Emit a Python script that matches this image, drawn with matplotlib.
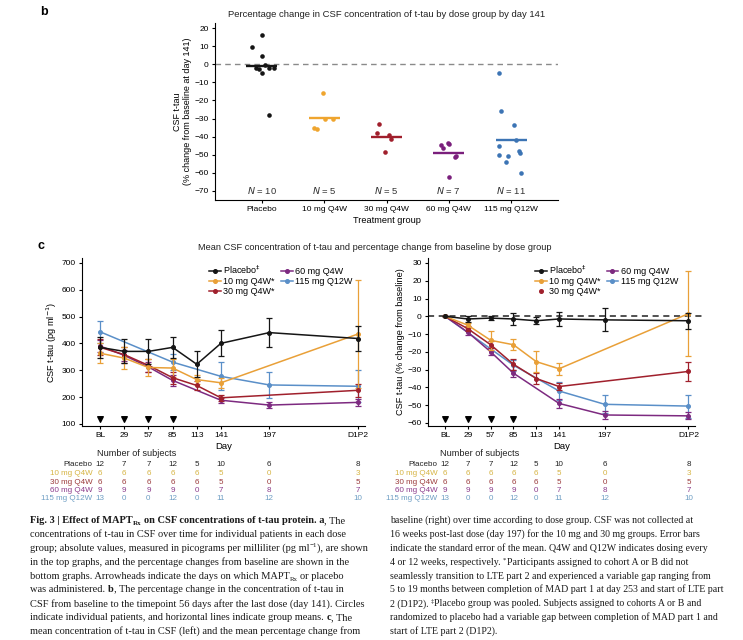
import numpy as np
import matplotlib
matplotlib.use("Agg")
import matplotlib.pyplot as plt
from matplotlib.lines import Line2D
from matplotlib.transforms import blended_transform_factory

plt.rcParams['font.family'] = ['Liberation Sans', 'DejaVu Sans']
plt.rcParams['axes.linewidth'] = 0.8
plt.rcParams['xtick.major.width'] = 0.8
plt.rcParams['ytick.major.width'] = 0.8
plt.rcParams['xtick.major.size'] = 2.5
plt.rcParams['ytick.major.size'] = 2.5

# ---------------- data: panel b (% change at day 141) ----------------
groups_b = ['Placebo', '10 mg Q4W', '30 mg Q4W', '60 mg Q4W', '115 mg Q12W']
pct_placebo = [9.5, 16, 4.5, -0.5, -2, -5, -2, -2, -2.5, -28]
pct_10mg = [-16, -35.5, -36, -30.5, -30]
pct_30mg = [-33, -38, -39, -41.5, -48.5]
pct_60mg = [-44.5, -46, -43.5, -44, -51.5, -50.5, -62.5]
pct_115mg = [-5, -26, -33.5, -42, -45, -50, -50.5, -54, -48, -49, -60]
# horizontal spread of the dots around each group
spread_placebo = [-0.16, 0.01, 0.01, 0.05, -0.09, 0.0, 0.11, 0.19, -0.05, 0.12]
spread_10mg = [-0.02, -0.16, -0.12, 0.14, 0.02]
spread_30mg = [-0.12, -0.15, 0.04, 0.07, -0.03]
spread_60mg = [-0.12, -0.10, -0.01, 0.01, 0.10, 0.11, 0.0]
spread_115mg = [-0.20, -0.17, 0.04, 0.08, -0.20, -0.20, -0.05, -0.09, 0.13, 0.14, 0.16]

# ---------------- data: panel c (means over time) ----------------
day_labels = ['BL', '29', '57', '85', '113', '141', '197', 'D1P2']
day_pos = [1, 29, 57, 85, 113, 141, 197, 300]
dose_days = ['BL', '29', '57', '85']
series_names = ['Placebo$^{\\ddag}$', '10 mg Q4W*', '30 mg Q4W*', '60 mg Q4W', '115 mg Q12W']
table_names = ['Placebo', '10 mg Q4W', '30 mg Q4W', '60 mg Q4W', '115 mg Q12W']

n_subjects = [
    [12, 7, 7, 12, 5, 10, 6, 8],
    [6, 6, 6, 6, 6, 5, 0, 3],
    [6, 6, 6, 6, 6, 5, 0, 5],
    [9, 9, 9, 9, 0, 7, 8, 7],
    [13, 0, 0, 12, 0, 11, 12, 10],
]

abs_placebo = [385, 370, 370, 385, 322, 400, 440, 418]
abs_10mg = [363, 345, 310, 308, 265, 253, 0, 435]
abs_30mg = [385, 358, 318, 272, 243, 197, 0, 225]
abs_60mg = [390, 355, 312, 262, 0, 188, 170, 180]
abs_115mg = [443, 0, 0, 330, 0, 277, 245, 240]
sem_abs_placebo = [38, 45, 48, 38, 48, 48, 55, 47]
sem_abs_10mg = [38, 40, 30, 35, 18, 18, 0, 200]
sem_abs_30mg = [30, 30, 25, 22, 15, 10, 0, 25]
sem_abs_60mg = [22, 20, 18, 20, 0, 10, 12, 12]
sem_abs_115mg = [42, 0, 0, 30, 0, 52, 48, 60]

chg_placebo = [0, -1.5, -1, -1.5, -2.5, -1.5, -2, -2.5]
chg_10mg = [0, -5, -13.5, -16, -25.5, -29.5, 0, 1.5]
chg_30mg = [0, -7, -16, -27, -35, -39.5, 0, -31]
chg_60mg = [0, -9, -20, -32, 0, -49, -55.5, -56]
chg_115mg = [0, 0, 0, -27.5, 0, -42, -49.5, -50.5]
sem_chg_placebo = [0, 1.5, 1, 3.5, 2, 4, 6.5, 4.5]
sem_chg_10mg = [0, 1.5, 5.5, 3, 6, 3.5, 0, 24]
sem_chg_30mg = [0, 1.5, 2, 3, 3, 2, 0, 5.5]
sem_chg_60mg = [0, 1.5, 2, 2, 0, 2.5, 2, 2]
sem_chg_115mg = [0, 0, 0, 3, 0, 5, 5, 6.5]

col_b = ['#151515', '#EFA52F', '#A01F2C', '#7A1F7C', '#3C74B4']
col_c = ['#151515', '#E9A038', '#A0202C', '#7D2A80', '#5A8FC8']
col_tab = ['#222222', '#D6B443', '#9B3B3B', '#8B3C8C', '#6E9EC4']

W, H = 743, 640
fig = plt.figure(figsize=(W / 100, H / 100), dpi=100)


def axes_px(left, top, right, bottom):
    return fig.add_axes([left / W, 1 - bottom / H, (right - left) / W, (bottom - top) / H])


# ---------------- panel b ----------------
axb = axes_px(215, 22.6, 558, 200)
pcts = [pct_placebo, pct_10mg, pct_30mg, pct_60mg, pct_115mg]
spreads = [spread_placebo, spread_10mg, spread_30mg, spread_60mg, spread_115mg]
axb.axhline(0, color='#8a8a8a', ls=(0, (4, 3)), lw=1.0, zorder=1)
for i, (vals, sp) in enumerate(zip(pcts, spreads)):
    axb.plot(i + np.array(sp), vals, 'o', color=col_b[i], ms=3.3, mec='none', zorder=3)
    axb.hlines(np.mean(vals), i - 0.25, i + 0.25, color=col_b[i], lw=1.7, zorder=4)
    axb.text(i, -70, '$\\it{N}$ = %d' % len(vals), ha='center', va='center', fontsize=6.8, color='#333333')
axb.set_xlim(-0.75, 4.75)
axb.set_ylim(-75, 23)
axb.set_yticks(range(-70, 21, 10))
axb.set_xticks(range(5))
axb.set_xticklabels(groups_b)
axb.tick_params(labelsize=6, pad=2)
axb.spines[['top', 'right']].set_visible(False)
axb.set_ylabel('CSF t-tau\n(% change from baseline at day 141)', fontsize=6.5, labelpad=2, linespacing=1.1)
axb.set_xlabel('Treatment group', fontsize=6.6, labelpad=2)
axb.set_title('Percentage change in CSF concentration of t-tau by dose group by day 141',
              fontsize=6.8, pad=4, color='#222222')

fig.text(40 / W, 1 - 12 / H, 'b', fontsize=9, fontweight='bold', va='center')
fig.text(38 / W, 1 - 246 / H, 'c', fontsize=9, fontweight='bold', va='center')
fig.text(375 / W, 1 - 247 / H,
         'Mean CSF concentration of t-tau and percentage change from baseline by dose group',
         fontsize=6.7, ha='center', va='center', color='#222222')


# ---------------- panel c ----------------
def panel_c(ax, vals, sems, ylim, yticks, ylabel, arrow_y, leg_anchor, dot_only_30):
    x = np.array(day_pos, dtype=float)
    for k in [4, 3, 2, 1, 0]:
        ok = np.array(n_subjects[k]) > 0
        y = np.array(vals[k], dtype=float)[ok]
        e = np.array(sems[k], dtype=float)[ok]
        ax.errorbar(x[ok], y, yerr=e, color=col_c[k], lw=1.1, marker='o', ms=2.6,
                    capsize=2, elinewidth=0.9, capthick=0.9, zorder=3 + (4 - k) * 0.1)
    ax.scatter([day_pos[day_labels.index(d)] for d in dose_days], [arrow_y] * len(dose_days),
               marker='v', s=16, color='black', zorder=5)
    ax.set_xlim(-20, 308)
    ax.set_ylim(*ylim)
    ax.set_yticks(yticks)
    ax.set_xticks(day_pos)
    ax.set_xticklabels(day_labels)
    ax.tick_params(labelsize=6, pad=2)
    ax.spines[['top', 'right']].set_visible(False)
    ax.set_ylabel(ylabel, fontsize=6.6, labelpad=2)
    ax.set_xlabel('Day', fontsize=6.8, labelpad=2)
    handles = []
    for k in range(5):
        if dot_only_30 and k == 2:
            handles.append(Line2D([], [], color=col_c[k], marker='o', ms=2.6, ls='none'))
        else:
            handles.append(Line2D([], [], color=col_c[k], marker='o', ms=2.6, lw=1.1))
    ax.legend(handles, series_names, ncol=2, loc='upper left', bbox_to_anchor=leg_anchor,
              frameon=False, fontsize=6.5, handlelength=1.3, handletextpad=0.25,
              columnspacing=0.7, labelspacing=0.1, borderpad=0, borderaxespad=0)
    # number of subjects table
    tr = blended_transform_factory(ax.transData, fig.transFigure)
    ax.text(43, 1 - 454 / H, 'Number of subjects', transform=tr, ha='center', va='center',
            fontsize=6.6, color='#222222')
    row_y = [465, 473.5, 482, 490.5, 499]
    for k in range(5):
        yf = 1 - row_y[k] / H
        ax.annotate(table_names[k], xy=(day_pos[0], yf), xycoords=tr, xytext=(-5.5, 0),
                    textcoords='offset points', ha='right', va='center', fontsize=5.8,
                    color=col_tab[k])
        for j in range(len(day_pos)):
            ax.text(day_pos[j], yf, str(n_subjects[k][j]), transform=tr, ha='center',
                    va='center', fontsize=5.8, color=col_tab[k])


axl = axes_px(82, 258, 365, 426)
panel_c(axl, [abs_placebo, abs_10mg, abs_30mg, abs_60mg, abs_115mg],
        [sem_abs_placebo, sem_abs_10mg, sem_abs_30mg, sem_abs_60mg, sem_abs_115mg],
        (92, 718), range(100, 701, 100), 'CSF t-tau (pg ml$^{-1}$)', 117, (0.45, 0.965), False)

axr = axes_px(428, 258, 695, 426)
axr.plot([-20, 318], [0, 0], color='#222222', ls=(0, (4, 3)), lw=1.1, clip_on=False, zorder=2)
panel_c(axr, [chg_placebo, chg_10mg, chg_30mg, chg_60mg, chg_115mg],
        [sem_chg_placebo, sem_chg_10mg, sem_chg_30mg, sem_chg_60mg, sem_chg_115mg],
        (-61.7, 32.8), range(-60, 31, 10), 'CSF t-tau (% change from baseline)', -57.8,
        (0.40, 0.965), True)

# ---------------- caption ----------------
cap_left = [
    [("Fig. 3 | Effect of MAPT", 1, None), ("Rx", 1, 'sub'),
     (" on CSF concentrations of t-tau protein. a", 1, None), (", The", 0, None)],
    [("concentrations of t-tau in CSF over time for individual patients in each dose", 0, None)],
    [("group; absolute values, measured in picograms per milliliter (pg ml", 0, None), ("\u22121", 0, 'sup'),
     ("), are shown", 0, None)],
    [("in the top graphs, and the percentage changes from baseline are shown in the", 0, None)],
    [("bottom graphs. Arrowheads indicate the days on which MAPT", 0, None), ("Rx", 0, 'sub'),
     (" or placebo", 0, None)],
    [("was administered. ", 0, None), ("b", 1, None),
     (", The percentage change in the concentration of t-tau in", 0, None)],
    [("CSF from baseline to the timepoint 56 days after the last dose (day 141). Circles", 0, None)],
    [("indicate individual patients, and horizontal lines indicate group means. ", 0, None),
     ("c", 1, None), (", The", 0, None)],
    [("mean concentration of t-tau in CSF (left) and the mean percentage change from", 0, None)],
]
cap_right = [
    [("baseline (right) over time according to dose group. CSF was not collected at", 0, None)],
    [("16 weeks post-last dose (day 197) for the 10 mg and 30 mg groups. Error bars", 0, None)],
    [("indicate the standard error of the mean. Q4W and Q12W indicates dosing every", 0, None)],
    [("4 or 12 weeks, respectively. ", 0, None), ("*", 0, 'sup'),
     ("Participants assigned to cohort A or B did not", 0, None)],
    [("seamlessly transition to LTE part 2 and experienced a variable gap ranging from", 0, None)],
    [("5 to 19 months between completion of MAD part 1 at day 253 and start of LTE part", 0, None)],
    [("2 (D1P2). ", 0, None), ("\u2021", 0, 'sup'),
     ("Placebo group was pooled. Subjects assigned to cohorts A or B and", 0, None)],
    [("randomized to placebo had a variable gap between completion of MAD part 1 and", 0, None)],
    [("start of LTE part 2 (D1P2).", 0, None)],
]

cap_family = ['Liberation Serif', 'DejaVu Serif']
renderer = fig.canvas.get_renderer()


def text_w(s, size, bold):
    t = fig.text(0, 0, s, fontsize=size, fontweight='bold' if bold else 'normal', family=cap_family)
    w = t.get_window_extent(renderer).width
    t.remove()
    return w


def seg_w(s, size, bold, space):
    core = s.strip(' ')
    lead = len(s) - len(s.lstrip(' '))
    trail = len(s) - len(s.rstrip(' '))
    w = text_w(core, size, bold) if core else 0
    return lead, core, trail, w + (lead + trail) * space


def draw_line(x0, y0, parts, size, draw=True):
    space = text_w('a a', size, False) - text_w('aa', size, False)
    x = x0
    for s, bold, kind in parts:
        fs = size * 0.68 if kind else size
        dy = {None: 0, 'sub': 2.0, 'sup': -3.5}[kind]
        lead, core, trail, w = seg_w(s, fs, bold, space)
        if draw and core:
            fig.text((x + lead * space) / W, 1 - (y0 + dy) / H, core, fontsize=fs,
                     fontweight='bold' if bold else 'normal', family=cap_family,
                     va='baseline', color='#1a1a1a')
        x += w
    return x - x0


for lines, x0, width in [(cap_left, 30, 336), (cap_right, 390, 332)]:
    widest = max(draw_line(0, 0, ln, 10, draw=False) for ln in lines)
    size = 10 * width / widest
    for i, ln in enumerate(lines):
        draw_line(x0, 523 + i * 13.9, ln, size)

fig.savefig('out.png', dpi=100)
